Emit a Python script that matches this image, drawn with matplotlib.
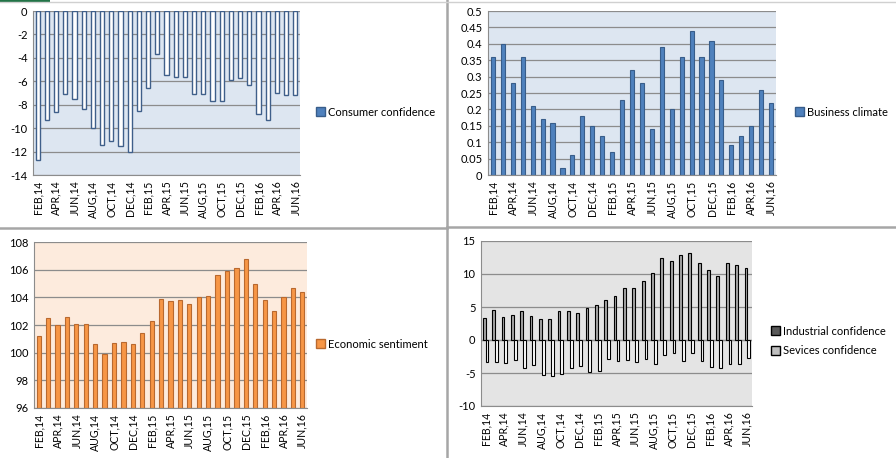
import numpy as np
import matplotlib
matplotlib.use('Agg')
from matplotlib import pyplot as plt
from matplotlib.patches import Rectangle
from matplotlib.lines import Line2D

plt.rcParams['font.family'] = ['Lato', 'DejaVu Sans']

# months FEB,14 .. JUN,16
months = ['FEB', 'MAR', 'APR', 'MAY', 'JUN', 'JUL', 'AUG', 'SEP', 'OCT', 'NOV', 'DEC',
          'JAN', 'FEB', 'MAR', 'APR', 'MAY', 'JUN', 'JUL', 'AUG', 'SEP', 'OCT', 'NOV', 'DEC',
          'JAN', 'FEB', 'MAR', 'APR', 'MAY', 'JUN']
years = ['14'] * 11 + ['15'] * 12 + ['16'] * 6
labels = [m + ',' + y for m, y in zip(months, years)]

consumer = [-12.7, -9.3, -8.6, -7.1, -7.5, -8.4, -10.0, -11.4, -11.1, -11.5, -12.0,
            -8.5, -6.6, -3.7, -5.5, -5.6, -5.6, -7.1, -7.1, -7.7, -7.7, -5.9, -5.7,
            -6.3, -8.8, -9.3, -7.0, -7.2, -7.2]
business = [0.36, 0.40, 0.28, 0.36, 0.21, 0.17, 0.16, 0.02, 0.06, 0.18, 0.15,
            0.12, 0.07, 0.23, 0.32, 0.28, 0.14, 0.39, 0.20, 0.36, 0.44, 0.36, 0.41,
            0.29, 0.09, 0.12, 0.15, 0.26, 0.22]
sentiment = [101.2, 102.5, 102.0, 102.6, 102.1, 102.1, 100.6, 99.9, 100.7, 100.8, 100.6,
             101.4, 102.3, 103.9, 103.7, 103.8, 103.5, 104.0, 104.1, 105.6, 105.9, 106.1, 106.8,
             105.0, 103.8, 103.0, 104.0, 104.7, 104.4]
industrial = [3.3, 4.5, 3.5, 3.8, 4.4, 3.6, 3.2, 3.2, 4.4, 4.4, 4.1,
              4.9, 5.3, 6.1, 6.7, 7.9, 7.9, 9.0, 10.2, 12.4, 12.0, 12.9, 13.2,
              11.7, 10.6, 9.7, 11.7, 11.4, 10.9]
services = [-3.3, -3.3, -3.5, -3.0, -4.2, -3.8, -5.3, -5.4, -5.1, -4.2, -4.0,
            -4.9, -4.7, -2.9, -3.2, -3.0, -3.3, -2.9, -3.6, -2.3, -2.0, -3.2, -2.0,
            -3.2, -4.1, -4.2, -3.6, -3.6, -2.8]

W, H = 896, 458
fig = plt.figure(figsize=(W / 100, H / 100), dpi=100)
fig.patch.set_facecolor('white')

x = np.arange(len(labels))
grid_c = '#8C8C8C'
fs = 7.6


def make_ax(l, t, r, b):
    ax = fig.add_axes([l / W, 1 - b / H, (r - l) / W, (b - t) / H])
    return ax


def style(ax, bg, ymin, ymax, step, fmt):
    ax.set_facecolor(bg)
    ax.set_xlim(-0.5, len(labels) - 0.5)
    ax.set_ylim(ymin, ymax)
    ticks = np.arange(ymin, ymax + step / 2, step)
    ax.set_yticks(ticks)
    ax.set_yticklabels([fmt(v) for v in ticks], fontsize=fs + 0.4)
    ax.yaxis.grid(True, color=grid_c, linewidth=0.9)
    ax.set_axisbelow(True)
    ax.set_xticks(x[::2])
    ax.set_xticklabels(labels[::2], rotation=90, fontsize=fs)
    ax.tick_params(length=0, pad=4)
    for s in ['top', 'right']:
        ax.spines[s].set_visible(False)
    ax.spines['left'].set_color(grid_c)
    ax.spines['bottom'].set_color(grid_c)


def leg(ax, handles, names, fx, fy):
    ax.legend(handles, names, loc='center left', bbox_to_anchor=(fx / W, 1 - fy / H),
              bbox_transform=fig.transFigure, frameon=False, fontsize=fs + 0.4,
              handlelength=0.8, handleheight=0.8, handletextpad=0.3, labelspacing=0.8,
              borderpad=0, borderaxespad=0)


# panel 1: consumer confidence
ax1 = make_ax(33, 11, 300, 175)
ax1.bar(x, consumer, width=0.45, color='white', edgecolor='#3F5F8A', linewidth=1)
style(ax1, '#DDE6F1', -14, 0, 2, lambda v: '%d' % v)
leg(ax1, [Rectangle((0, 0), 1, 1, fc='#4F81BD', ec='#385D8A')], ['Consumer confidence'], 316, 112)

# panel 2: business climate
ax2 = make_ax(488, 11, 776, 175)
ax2.bar(x, business, width=0.42, color='#4F81BD', edgecolor='#385D8A', linewidth=0.8)
style(ax2, '#DDE6F1', 0, 0.5, 0.05, lambda v: ('%.2f' % v).rstrip('0').rstrip('.') if v else '0')
leg(ax2, [Rectangle((0, 0), 1, 1, fc='#4F81BD', ec='#385D8A')], ['Business climate'], 795, 112)

# panel 3: economic sentiment
ax3 = make_ax(34, 242, 307, 408)
ax3.bar(x, np.array(sentiment) - 96, bottom=96, width=0.45, color='#F79646',
        edgecolor='#B9692F', linewidth=0.8)
style(ax3, '#FDEBDD', 96, 108, 2, lambda v: '%d' % v)
leg(ax3, [Rectangle((0, 0), 1, 1, fc='#F79646', ec='#B9692F')], ['Economic sentiment'], 316, 344)

# panel 4: industrial / services confidence
ax4 = make_ax(481, 241, 752, 406)
bw = 0.3
ax4.bar(x - bw / 2, industrial, width=bw, color='#A6A6A6', edgecolor='black', linewidth=0.8)
ax4.bar(x + bw / 2, services, width=bw, color='white', edgecolor='black', linewidth=0.8)
style(ax4, '#E4E4E4', -10, 15, 5, lambda v: '%d' % v)
ax4.axhline(0, color=grid_c, linewidth=0.9, zorder=0.5)
leg(ax4, [Rectangle((0, 0), 1, 1, fc='#595959', ec='black'),
          Rectangle((0, 0), 1, 1, fc='#BFBFBF', ec='black')],
    ['Industrial confidence', 'Sevices confidence'], 771, 341)

# dividers between the chart cells
div_c = '#A6A6A6'
fig.add_artist(Line2D([447 / W, 447 / W], [0, 1], color=div_c, linewidth=1.8))
fig.add_artist(Line2D([0, 447 / W], [1 - 228 / H, 1 - 228 / H], color=div_c, linewidth=1.8))
fig.add_artist(Line2D([447 / W, 1], [1 - 227 / H, 1 - 227 / H], color=div_c, linewidth=1.8))
fig.add_artist(Line2D([0, 1], [1 - 1.5 / H, 1 - 1.5 / H], color='#D0D0D0', linewidth=1))
fig.add_artist(Rectangle((0, 1 - 3 / H), 50 / W, 3 / H, transform=fig.transFigure,
                         color='#217346', linewidth=0))

fig.savefig('out.png', dpi=100, facecolor='white')
